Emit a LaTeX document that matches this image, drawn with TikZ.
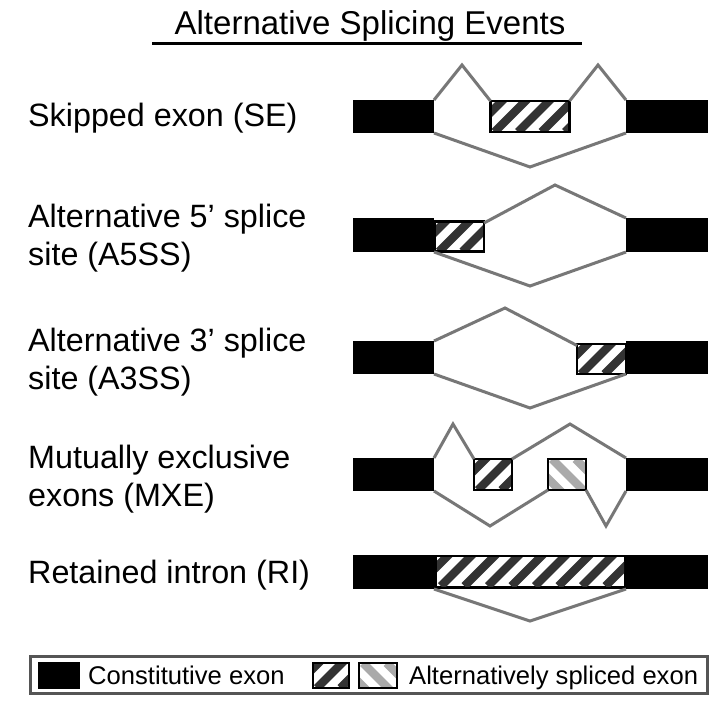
\documentclass[tikz,border=0pt]{standalone}
\usepackage{fontspec}
\setmainfont{Liberation Sans}
\begin{document}
\begin{tikzpicture}[x=1pt,y=-1pt,
  exon/.style={fill=black,inner sep=0pt,outer sep=0pt},
  hatch/.style={draw=#1,line width=8.3pt},
  altup/.style={fill=white,draw=black,line width=2.5pt,inner sep=0pt,outer sep=0pt,
    path picture={\foreach \k in {-3,...,9}{\draw[hatch=stripedark]
      ([xshift=\k*23.5pt+4pt]path picture bounding box.south west) -- ++(45pt,45pt);}}},
  altdown/.style={fill=white,draw=black,line width=2.5pt,inner sep=0pt,outer sep=0pt,
    path picture={\foreach \k in {-3,...,9}{\draw[hatch=stripelight]
      ([xshift=\k*23.5pt+4pt]path picture bounding box.north west) -- ++(45pt,-45pt);}}},
  conn/.style={draw=conngray,line width=3pt,line join=miter},
  lbl/.style={anchor=base west,inner sep=0pt,font=\fontsize{32.3}{38}\selectfont},
  leg/.style={anchor=base west,inner sep=0pt,font=\fontsize{25.6}{30}\selectfont}]
\definecolor{stripedark}{HTML}{333333}
\definecolor{stripelight}{HTML}{AAAAAA}
\definecolor{conngray}{HTML}{777777}
\definecolor{legborder}{HTML}{555555}
\useasboundingbox[fill=white] (0,0) rectangle (722,716);

% title
\node[anchor=base,inner sep=0pt,font=\fontsize{33}{38}\selectfont] (title) at (370,34) {Alternative Splicing Events};
\coordinate (ulA) at (152,43);
\coordinate (ulB) at (582,43);
\draw[line width=3pt] (ulA) -- (ulB);

% labels
\node[lbl] (tSE) at (28,126) {Skipped exon (SE)};
\node[lbl] (tA5a) at (28,227) {Alternative 5’ splice};
\node[lbl] (tA5b) at (28,265) {site (A5SS)};
\node[lbl] (tA3a) at (28,351) {Alternative 3’ splice};
\node[lbl] (tA3b) at (28,389) {site (A3SS)};
\node[lbl] (tMXa) at (28,468) {Mutually exclusive};
\node[lbl] (tMXb) at (28,506) {exons (MXE)};
\node[lbl] (tRI) at (28,583) {Retained intron (RI)};

% ---- SE
\node[exon,minimum width=81,minimum height=33] (se1) at (393.5,116.5) {};
\node[exon,minimum width=82,minimum height=33] (se2) at (667,116.5) {};
\node[altup,minimum width=79,minimum height=31] (sea) at (530,116.5) {};
\coordinate (sep1) at (462,65);
\coordinate (sep2) at (598,65);
\coordinate (seb) at (530,167);
\draw[conn] (se1.north east) -- (sep1) -- (sea.north west);
\draw[conn] (sea.north east) -- (sep2) -- (se2.north west);
\draw[conn] (se1.south east) -- (seb) -- (se2.south west);

% ---- A5SS
\node[exon,minimum width=81,minimum height=34] (a51) at (393.5,235) {};
\node[exon,minimum width=82,minimum height=34] (a52) at (667,235) {};
\node[altup,minimum width=49,minimum height=30] (a5a) at (459.5,236.5) {};
\coordinate (a5p) at (555,185);
\coordinate (a5b) at (530,286);
\draw[conn] ([yshift=-1.5pt]a5a.north east) -- (a5p) -- (a52.north west);
\draw[conn] (a51.south east) -- (a5b) -- (a52.south west);

% ---- A3SS
\node[exon,minimum width=81,minimum height=33] (a31) at (393.5,357.5) {};
\node[exon,minimum width=82,minimum height=33] (a32) at (667,357.5) {};
\node[altup,minimum width=49,minimum height=30] (a3a) at (601.5,359) {};
\coordinate (a3p) at (505,308);
\coordinate (a3b) at (530,408);
\draw[conn] (a31.north east) -- (a3p) -- ([yshift=-1.5pt]a3a.north west);
\draw[conn] (a31.south east) -- (a3b) -- (a32.south west);

% ---- MXE
\node[exon,minimum width=81,minimum height=33] (mx1) at (393.5,474.5) {};
\node[exon,minimum width=82,minimum height=33] (mx2) at (667,474.5) {};
\node[altup,minimum width=38,minimum height=31] (mxa) at (493,474.5) {};
\node[altdown,minimum width=38,minimum height=31] (mxb) at (567,474.5) {};
\coordinate (mxp1) at (453,424);
\coordinate (mxp2) at (570,424);
\coordinate (mxb1) at (490,526);
\coordinate (mxb2) at (606,526);
\draw[conn] (mx1.north east) -- (mxp1) -- (mxa.north west);
\draw[conn] (mxa.north east) -- (mxp2) -- (mx2.north west);
\draw[conn] (mx1.south east) -- (mxb1) -- (mxb.south west);
\draw[conn] (mxb.south east) -- (mxb2) -- (mx2.south west);

% ---- RI
\node[exon,minimum width=355,minimum height=34] (ri) at (530.5,572) {};
\node[altup,draw=none,minimum width=187,minimum height=29] (ria) at (530.5,571.5) {};
\coordinate (ril) at (434,589);
\coordinate (rir) at (626,589);
\coordinate (rib) at (530,621);
\draw[conn] (ril) -- (rib) -- (rir);

% ---- legend
\node[draw=legborder,line width=3pt,minimum width=677,minimum height=37,inner sep=0pt] (legbox) at (368.5,675) {};
\node[exon,minimum width=42,minimum height=27] (lk1) at (59,675.5) {};
\node[leg] (lt1) at (88,684) {Constitutive exon};
\node[altup,minimum width=36,minimum height=25] (lk2) at (331,675.5) {};
\node[altdown,minimum width=38,minimum height=25] (lk3) at (378,675.5) {};
\node[leg] (lt2) at (409,684) {Alternatively spliced exon};
\end{tikzpicture}
\end{document}
